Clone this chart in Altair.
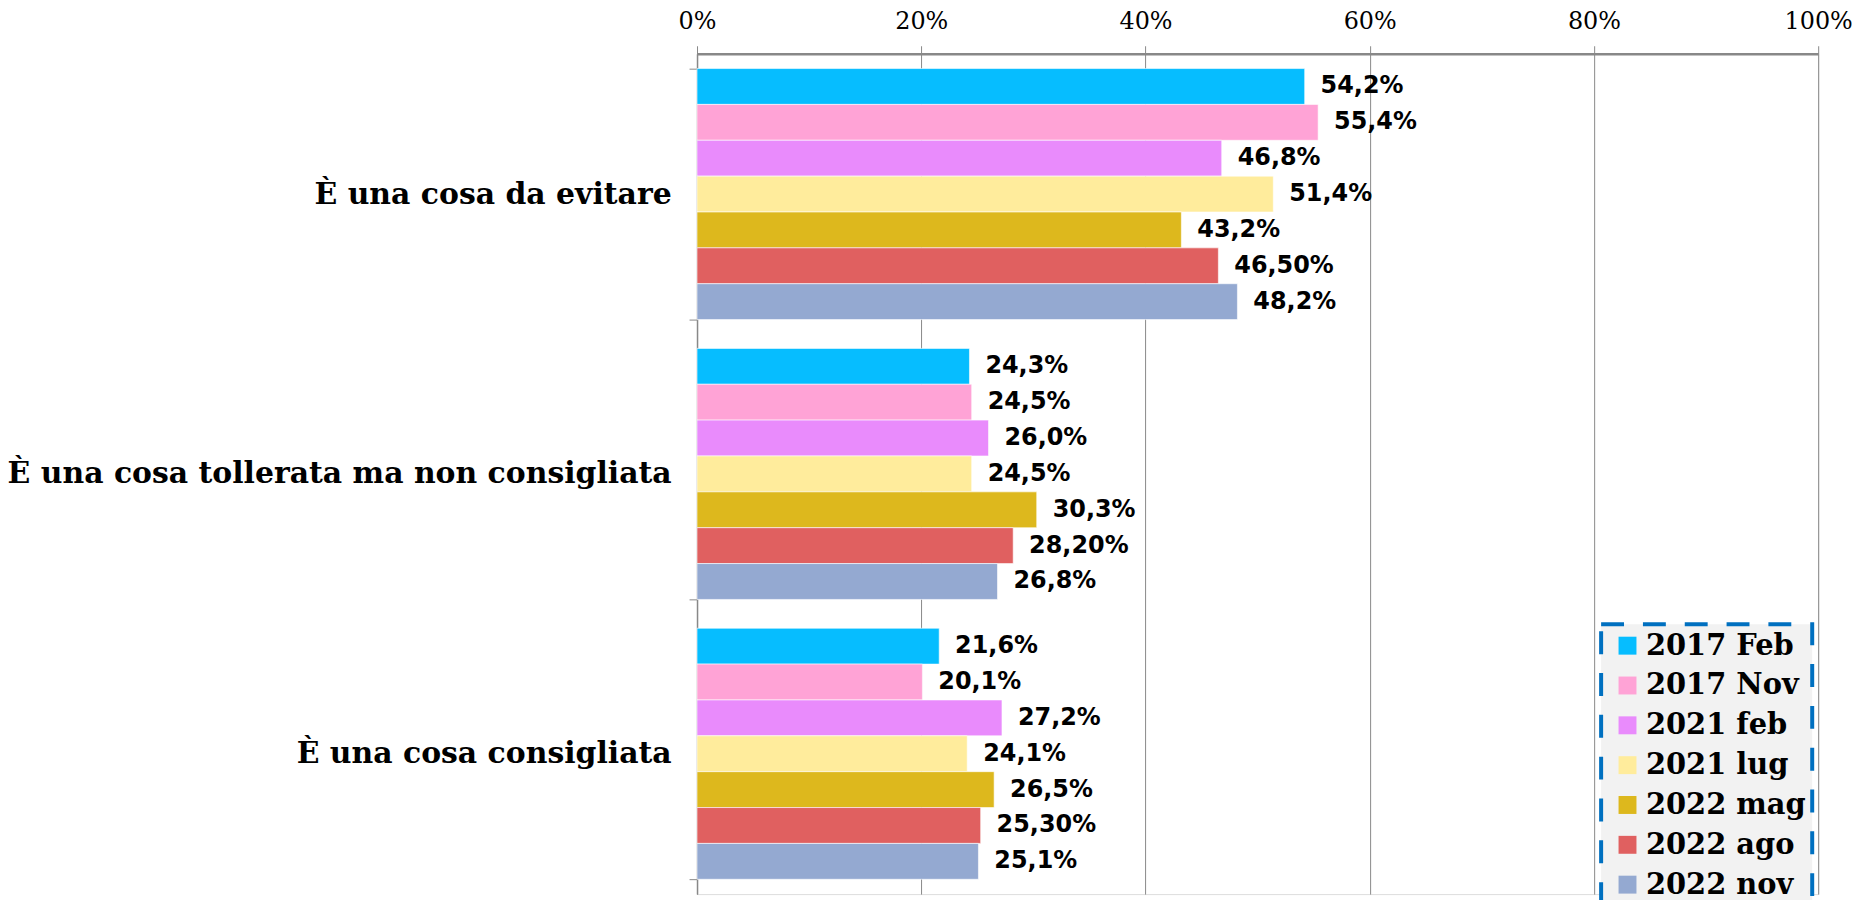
import altair as alt
import pandas as pd

categories = ["È una cosa da evitare", "È una cosa tollerata ma non consigliata", "È una cosa consigliata"]
series = ["2017 Feb", "2017 Nov", "2021 feb", "2021 lug", "2022 mag", "2022 ago", "2022 nov"]
colors = ["#06BDFF", "#FFA3D6", "#E98BFC", "#FFEC9C", "#DDB81D", "#E06060", "#94A9D1"]

evitare = [54.2, 55.4, 46.8, 51.4, 43.2, 46.5, 48.2]
evitare_lbl = ["54,2%", "55,4%", "46,8%", "51,4%", "43,2%", "46,50%", "48,2%"]
tollerata = [24.3, 24.5, 26.0, 24.5, 30.3, 28.2, 26.8]
tollerata_lbl = ["24,3%", "24,5%", "26,0%", "24,5%", "30,3%", "28,20%", "26,8%"]
consigliata = [21.6, 20.1, 27.2, 24.1, 26.5, 25.3, 25.1]
consigliata_lbl = ["21,6%", "20,1%", "27,2%", "24,1%", "26,5%", "25,30%", "25,1%"]

rows = []
for cat, vals, lbls in zip(categories, [evitare, tollerata, consigliata],
                           [evitare_lbl, tollerata_lbl, consigliata_lbl]):
    for s, v, l in zip(series, vals, lbls):
        rows.append({"cat": cat, "serie": s, "val": v / 100.0, "lbl": l})
df = pd.DataFrame(rows)

y_enc = alt.Y("cat:N", sort=categories,
              scale=alt.Scale(paddingInner=0.103, paddingOuter=0.053),
              axis=alt.Axis(title=None, labelFont="DejaVu Serif", labelFontWeight="bold",
                            labelFontSize=30, labelColor="black", labelPadding=18,
                            tickBand="extent", tickSize=8, tickColor="#888888",
                            domainColor="#888888", domainWidth=1.5, grid=False,
                            labelLimit=800))
yoff = alt.YOffset("serie:N", sort=series)

base = alt.Chart(df)

# dashed legend frame (decoration behind the legend)
frame = alt.Chart(pd.DataFrame({"k": [0]})).mark_rect(
    fill="#F2F2F2", stroke="#0070C0", strokeWidth=4, strokeDash=[23, 19]
).encode(x=alt.value(908), x2=alt.value(1120), y=alt.value(573), y2=alt.value(880))

bars = base.mark_bar(stroke="white", strokeWidth=0.6).encode(
    x=alt.X("val:Q", scale=alt.Scale(domain=[0, 1]),
            axis=alt.Axis(orient="top", title=None, format=".0%",
                          values=[0, 0.2, 0.4, 0.6, 0.8, 1.0],
                          labelFont="DejaVu Serif", labelFontSize=24,
                          labelColor="black", labelPadding=12, labelFlush=False,
                          labelOverlap=False,
                          tickSize=8, tickColor="#888888",
                          domainColor="#888888", domainWidth=2.5,
                          grid=True, gridColor="#888888", gridWidth=1)),
    y=y_enc,
    yOffset=yoff,
    color=alt.Color("serie:N", sort=series,
                    scale=alt.Scale(domain=series, range=colors),
                    legend=alt.Legend(title=None, orient="none", legendX=908, legendY=568,
                                      symbolType="square", symbolSize=324,
                                      symbolStrokeWidth=0,
                                      labelFont="DejaVu Serif", labelFontWeight="bold",
                                      labelFontSize=29, labelColor="black", labelLimit=400,
                                      rowPadding=10, padding=12)),
)

labels = base.mark_text(align="left", baseline="middle", dx=16,
                        font="DejaVu Sans", fontWeight="bold", fontSize=24,
                        color="black").encode(
    x="val:Q",
    y=alt.Y("cat:N", sort=categories),
    yOffset=yoff,
    text="lbl:N",
)

chart = alt.layer(frame, bars, labels).properties(
    width=1126, height=844,
    autosize=alt.AutoSizeParams(type="none"),
    padding={"left": 692, "top": 44, "right": 42, "bottom": 4},
).configure_view(stroke=None).configure(background="white")

chart.save("out.html", embed_options={"renderer": "svg", "actions": False})
